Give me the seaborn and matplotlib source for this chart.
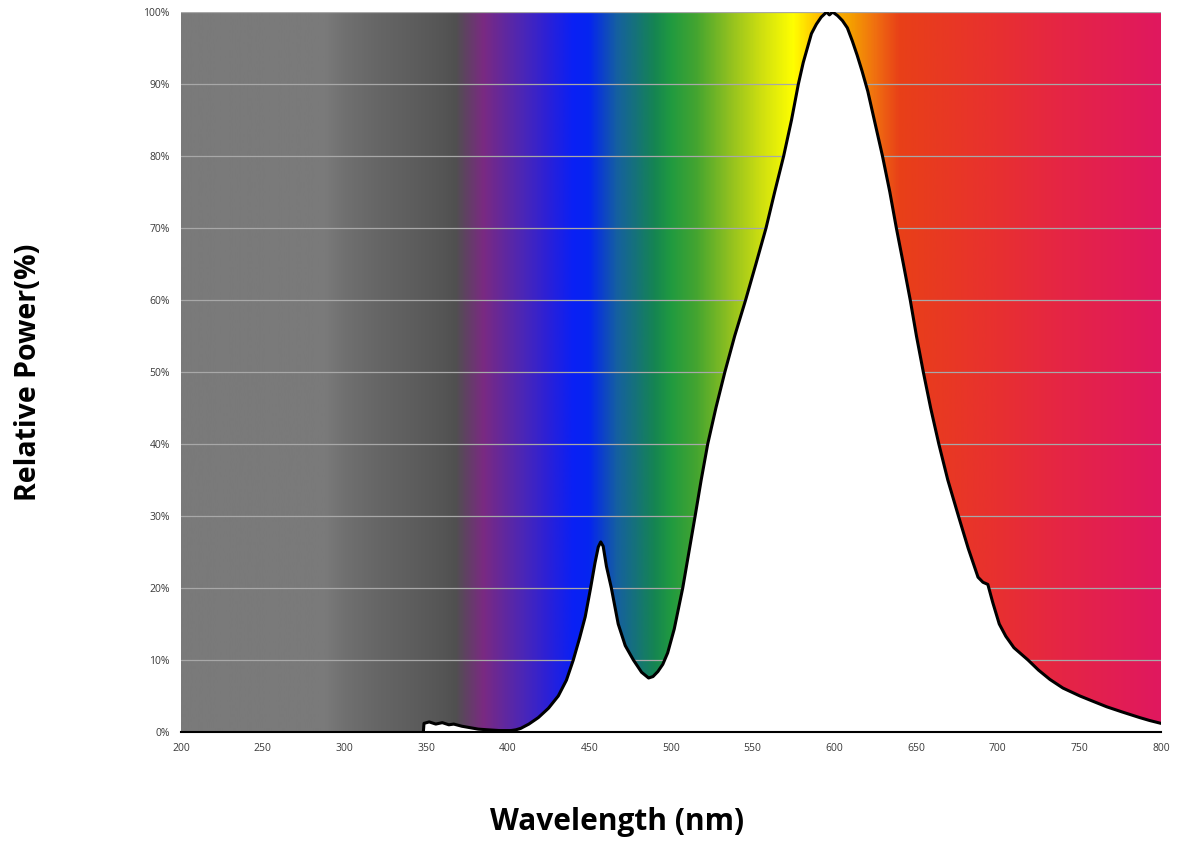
import numpy as np
import pandas as pd
import seaborn as sns
import matplotlib.pyplot as plt
from matplotlib.colors import LinearSegmentedColormap
from matplotlib.ticker import FuncFormatter

# spectrum values (wavelength nm, relative power %)
wavelength = [348.4, 348.8, 352, 356, 360, 364, 367, 372, 377, 382, 388, 395, 402, 405,
              408, 413, 418.8, 425, 431, 436, 440.2, 444, 447.5, 450.8, 453.5, 455.5,
              457, 458.5, 460.5, 463.5, 467.7, 472, 477, 482, 486.3, 489, 492, 495,
              498, 502, 507.2, 511, 514.8, 518.5, 522.5, 527.5, 533, 539, 545.7, 552,
              558.2, 563.5, 569, 573.8, 578, 581, 583.5, 586, 589, 592, 595.3, 597, 599,
              602, 605, 608, 611, 614, 617, 620.5, 625, 629.5, 634, 638, 642.3, 646.5,
              650.3, 654.5, 659, 664, 669.5, 676, 682, 688, 691, 694, 697,
              701, 705, 710, 718.6, 725, 732, 740, 750.4, 758, 766.8, 776, 787, 793, 800]
power = [0, 1.2, 1.4, 1.1, 1.3, 1.0, 1.1, 0.8, 0.6, 0.4, 0.3, 0.2, 0.2, 0.3,
         0.5, 1.1, 2.0, 3.3, 5.0, 7.2, 10, 13, 16, 20, 23.5, 25.7,
         26.4, 25.8, 23, 20, 15, 12, 10, 8.3, 7.5, 7.7, 8.4, 9.4,
         11, 14.3, 20, 25, 30, 35, 40, 45, 50, 55, 60, 65,
         70, 75, 80, 85, 90, 93, 95, 97, 98.3, 99.3, 100, 99.6, 100,
         99.5, 98.8, 97.8, 96, 94, 91.8, 89, 84.5, 80, 75, 70, 65, 60,
         55, 50, 45, 40, 35, 30, 25.5, 21.5, 20.8, 20.5, 18,
         15, 13.3, 11.7, 10, 8.6, 7.3, 6.1, 5, 4.3, 3.5, 2.8, 2, 1.6, 1.2]

# background spectrum colour stops
bg_nm = [200, 288, 300, 320, 340, 360, 368, 385, 410, 425, 440, 450, 467, 490,
         500, 516, 536, 556, 575, 590, 610, 625, 640, 700, 740, 800]
bg_col = ['#7a7a7a', '#7a7a7a', '#707070', '#666666', '#5e5e5e', '#555555', '#505050',
          '#7a2a82', '#4a26b8', '#2a20d8', '#0a20f5', '#0525f0', '#1560a0', '#158552',
          '#209a40', '#45a530', '#90c020', '#d0e010', '#ffff00', '#ffc000', '#f5a000',
          '#f07010', '#e84018', '#e83030', '#e52545', '#e0185f']

y_ticks = list(range(0, 101, 10))
x_ticks = list(range(200, 801, 50))

df = pd.DataFrame({'Wavelength': wavelength, 'Power': power})

sns.set_style('white')
plt.rcParams['font.family'] = ['Open Sans', 'DejaVu Sans']

fig = plt.figure(figsize=(11.82, 8.48), dpi=100)
ax = fig.add_axes([0.1531, 0.1368, 0.8291, 0.849])

pos = [(n - 200) / 600 for n in bg_nm]
cmap = LinearSegmentedColormap.from_list('spec', list(zip(pos, bg_col)), N=1024)
grad = np.linspace(0, 1, 1200).reshape(1, -1)
ax.imshow(grad, cmap=cmap, aspect='auto', extent=[200, 800, 0, 100], zorder=0)

for t in y_ticks[1:]:
    ax.axhline(t, color='#a8a8a8', lw=0.9, zorder=1)

ax.fill_between(df['Wavelength'], 0, df['Power'], color='white', zorder=2, lw=0)
sns.lineplot(data=df, x='Wavelength', y='Power', color='black', lw=2.2, ax=ax, zorder=3)

ax.set_xlim(200, 800)
ax.set_ylim(0, 100)
ax.set_xticks(x_ticks)
ax.set_yticks(y_ticks)
ax.yaxis.set_major_formatter(FuncFormatter(lambda v, p: f'{int(v)}%'))
ax.tick_params(axis='both', labelsize=7.5, colors='#3a3a3a', length=0, pad=8)
ax.grid(False)
for s in ['top', 'right', 'left']:
    ax.spines[s].set_visible(False)
ax.spines['bottom'].set_color('black')
ax.spines['bottom'].set_linewidth(1.5)
ax.spines['bottom'].set_zorder(4)

ax.set_xlabel('Wavelength (nm)', fontsize=21.5, fontweight='bold', color='black', va='top')
ax.set_ylabel('Relative Power(%)', fontsize=20.5, fontweight='bold', color='black')
ax.xaxis.set_label_coords(0.445, -0.104)
ax.yaxis.set_label_coords(-0.141, 0.5)

fig.savefig('out.png', dpi=100)
